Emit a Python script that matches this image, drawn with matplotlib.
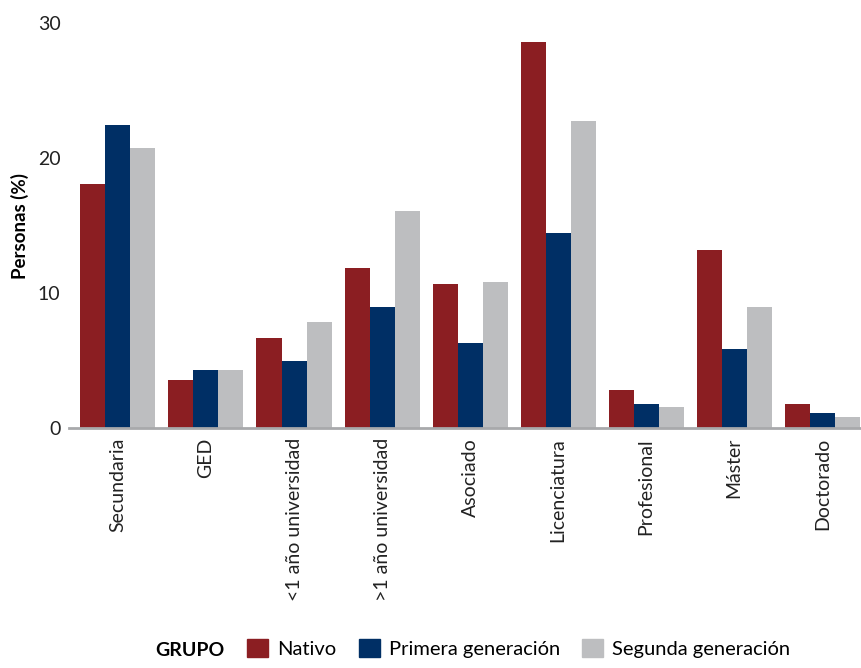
import numpy as np
import matplotlib.pyplot as plt
from matplotlib.patches import Patch

plt.rcParams['font.family'] = ['Lato', 'DejaVu Sans']

niveles = ['Secundaria', 'GED', '<1 año universidad', '>1 año universidad',
           'Asociado', 'Licenciatura', 'Profesional', 'Máster', 'Doctorado']
nativo = [18.1, 3.6, 6.7, 11.9, 10.7, 28.6, 2.8, 13.2, 1.8]
primera = [22.5, 4.3, 5.0, 9.0, 6.3, 14.5, 1.8, 5.9, 1.1]
segunda = [20.8, 4.3, 7.9, 16.1, 10.8, 22.8, 1.6, 9.0, 0.8]

grupos = ['Nativo', 'Primera generación', 'Segunda generación']
colores = ['#8B1E22', '#002F65', '#BDBEC0']

fig = plt.figure(figsize=(8.61, 6.68), dpi=100)
ax = fig.add_axes([0.080, 0.359, 0.920, 0.606])

x = np.arange(len(niveles))
w = 0.284
for i, (serie, col) in enumerate(zip([nativo, primera, segunda], colores)):
    ax.bar(x + (i - 1) * w, serie, width=w, color=col, zorder=2)

ax.set_xlim(-0.557, 8.44)
ax.set_ylim(0, 30)
ax.set_yticks([0, 10, 20, 30])
ax.set_xticks(x)
ax.set_xticklabels(niveles, rotation=90, fontsize=14, color='#222222')
ax.tick_params(axis='y', labelsize=14, length=0, pad=6, labelcolor='#222222')
ax.tick_params(axis='x', length=0, pad=7)
for s in ['top', 'right', 'left']:
    ax.spines[s].set_visible(False)
ax.spines['bottom'].set_color('#A8A9AB')
ax.spines['bottom'].set_linewidth(2)
ax.set_ylabel('Personas (%)', fontsize=13.5, fontweight='bold', labelpad=6)

fig.text(0.180, 0.014, 'GRUPO', fontsize=14, fontweight='bold', va='bottom')
handles = [Patch(color=c, label=g) for g, c in zip(grupos, colores)]
fig.legend(handles=handles, loc='lower left', bbox_to_anchor=(0.266, -0.012),
           ncol=3, frameon=False, fontsize=14.5, handlelength=1.05,
           handleheight=1.05, handletextpad=0.45, columnspacing=1.1)

fig.savefig('out.png', dpi=100)
